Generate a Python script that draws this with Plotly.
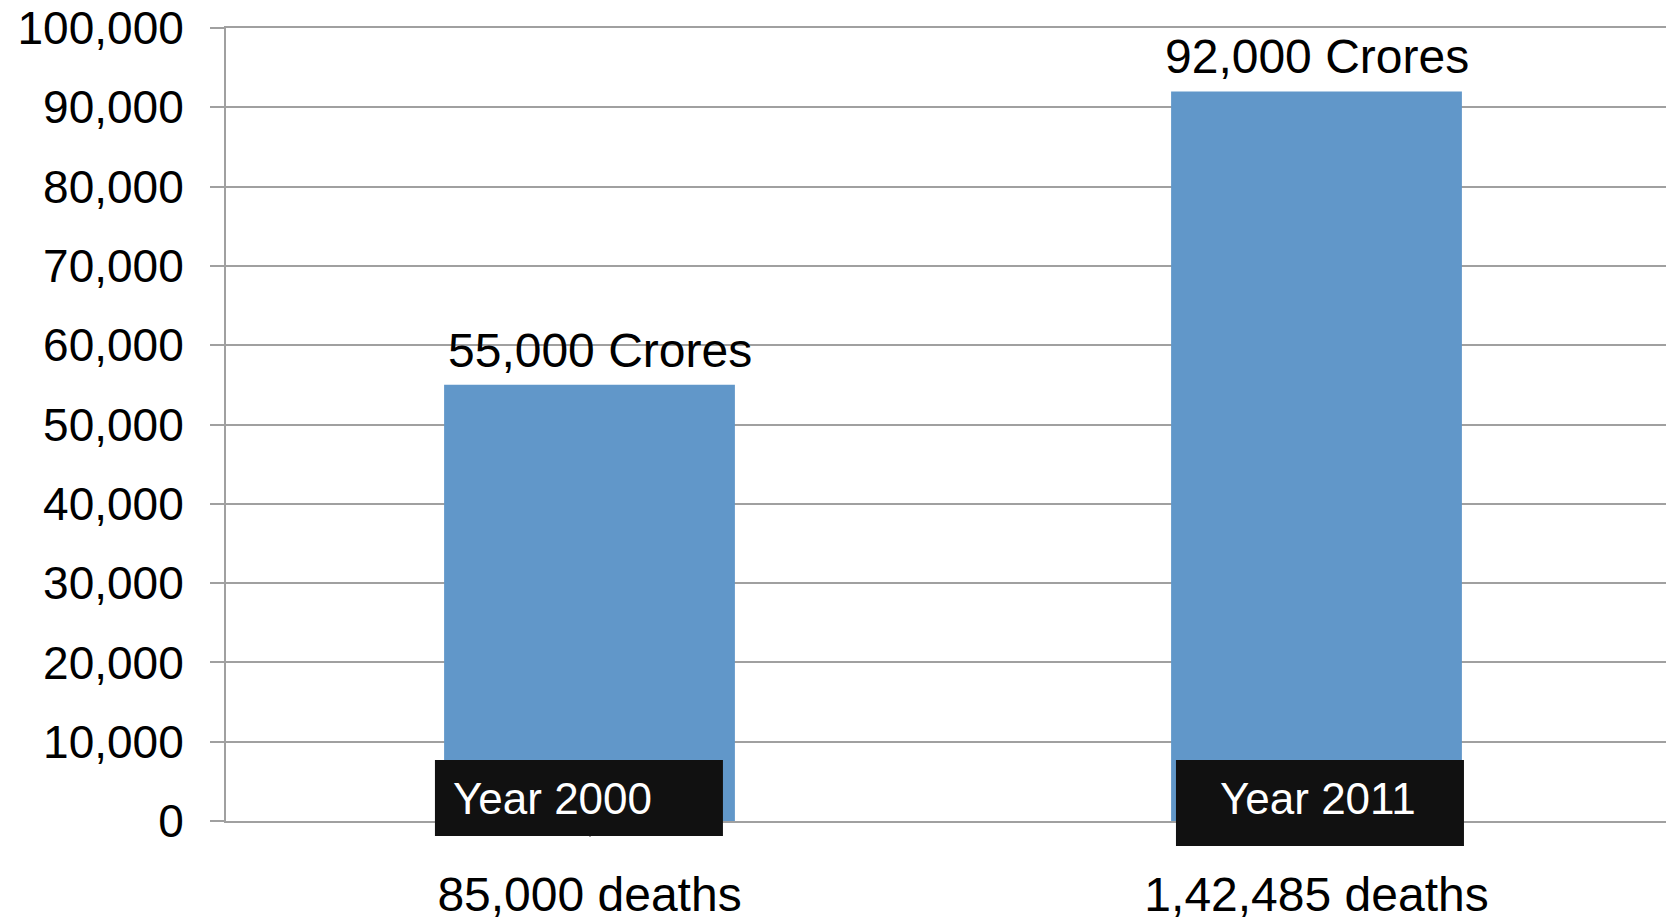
import plotly.graph_objects as go

categories = ["85,000 deaths", "1,42,485 deaths"]
values = [55000, 92000]
bar_labels = ["55,000 Crores", "92,000 Crores"]
year_labels = ["Year 2000", "Year 2011"]
y_ticks = [0, 10000, 20000, 30000, 40000, 50000, 60000, 70000, 80000, 90000, 100000]

FONT = "Liberation Sans, Arial, sans-serif"
GRID = "#A0A0A0"
label_xshift = [10, 0]

fig = go.Figure()
fig.add_trace(go.Bar(
    x=[0, 1], y=values, width=0.4,
    marker=dict(color="#6197C9", line=dict(width=0)),
    hoverinfo="skip",
))

for i, (v, t) in enumerate(zip(values, bar_labels)):
    fig.add_annotation(x=i, y=v, xref="x", yref="y", text=t, showarrow=False,
                       xanchor="center", yanchor="bottom", yshift=6, xshift=label_xshift[i],
                       font=dict(family=FONT, size=48, color="#000000"))

W, H = 1666, 917
L, R, T, B = 226, 0, 28, 96
pw = W - L - R
cat_w = 727
xmax = -0.5 + pw / cat_w

fig.update_layout(
    width=W, height=H,
    margin=dict(l=L, r=R, t=T, b=B, pad=0),
    paper_bgcolor="white", plot_bgcolor="white",
    showlegend=False,
    font=dict(family=FONT, color="#000000"),
    xaxis=dict(
        range=[-0.5, xmax], tickmode="array", tickvals=[0, 1], ticktext=categories,
        tickson="boundaries", ticks="outside", ticklen=14, tickwidth=2, tickcolor=GRID,
        showline=True, mirror=True, linecolor=GRID, linewidth=2,
        showgrid=False, zeroline=False, automargin=False,
        tickfont=dict(family=FONT, size=48, color="#000000"),
        ticklabelstandoff=16,
    ),
    yaxis=dict(
        range=[0, 100000], tickmode="array", tickvals=y_ticks, tickformat=",d",
        ticks="outside", ticklen=14, tickwidth=2, tickcolor=GRID,
        showline=True, linecolor=GRID, linewidth=2,
        showgrid=True, gridcolor=GRID, gridwidth=2, zeroline=False, automargin=False,
        tickfont=dict(family=FONT, size=46, color="#000000"),
        ticklabelstandoff=17,
    ),
)

# black caption boxes
boxes = [(0.1451, 0.3451, -0.0189, 0.0769), (0.6597, 0.8597, -0.0315, 0.0769)]
for (x0, x1, y0, y1) in boxes:
    fig.add_shape(type="rect", xref="paper", yref="paper", x0=x0, x1=x1, y0=y0, y1=y1,
                  fillcolor="#111111", line=dict(width=0), layer="above")

fig.add_annotation(xref="paper", yref="paper", x=0.1565, y=0.029, xanchor="left", yanchor="middle",
                   text=year_labels[0], showarrow=False,
                   font=dict(family=FONT, size=44, color="white"))
fig.add_annotation(xref="paper", yref="paper", x=0.7585, y=0.029, xanchor="center", yanchor="middle",
                   text=year_labels[1], showarrow=False,
                   font=dict(family=FONT, size=44, color="white"))

fig.write_html("out.html", config={"displayModeBar": False},
               post_script="document.body.style.margin='0px';document.body.style.overflow='hidden';")
